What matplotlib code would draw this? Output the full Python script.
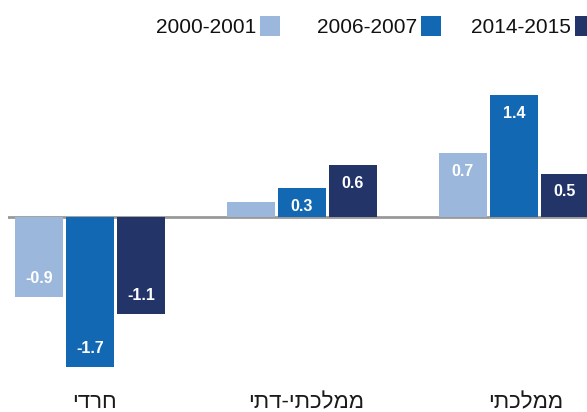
import matplotlib
matplotlib.use("Agg")
import matplotlib.pyplot as plt
from matplotlib.patches import Rectangle
import numpy as np

categories = ["חרדי", "ממלכתי-דתי", "ממלכתי"]
series_names = ["2000-2001", "2006-2007", "2014-2015"]
v2000 = [-0.92, 0.17, 0.74]
v2006 = [-1.72, 0.33, 1.4]
v2014 = [-1.11, 0.6, 0.5]
show_label = [[True, False, True], [True, True, True], [True, True, True]]
colors = ["#9BB8DC", "#1368B4", "#223468"]

plt.rcParams['font.family'] = ['Liberation Sans', 'DejaVu Sans']

W, H = 587, 412
fig = plt.figure(figsize=(W / 100, H / 100), dpi=100)
ax_left, ax_right, ax_top, ax_bot = 8, 587, 60, 375
ax = fig.add_axes([ax_left / W, 1 - ax_bot / H, (ax_right - ax_left) / W, (ax_bot - ax_top) / H])

pxu = 212.0
x = np.arange(len(categories))
offs = [-51 / pxu, 0, 51 / pxu]
bw = 48 / pxu
ypx = 87.0
lab_off = 18.5 / ypx

for si, (vals, col) in enumerate(zip([v2000, v2006, v2014], colors)):
    ax.bar(x + offs[si], vals, width=bw, color=col, label=series_names[si], zorder=2)
    for gi, v in enumerate(vals):
        if not show_label[si][gi]:
            continue
        yy = v - lab_off if v > 0 else v + lab_off
        ax.text(x[gi] + offs[si], yy, f"{v:.1f}", ha="center", va="center",
                color="white", fontsize=11.5, fontweight="bold", zorder=3)

ax.axhline(0, color="#999999", lw=2, zorder=1)
ax.set_xlim(-(90 - ax_left) / pxu, 2 + (ax_right - 514) / pxu)
ax.set_ylim(-(ax_bot - 217) / ypx, (217 - ax_top) / ypx)
for s in ax.spines.values():
    s.set_visible(False)
ax.set_yticks([])
ax.set_xticks([])

# category labels (visual order for RTL text)
label_dx = [4, 4, 12]
for gi, c in enumerate(categories):
    ax.annotate(c[::-1], xy=(x[gi], 0), xycoords=("data", "figure fraction"),
                xytext=(label_dx[gi] * 0.72, 1 - 403 / H),
                textcoords=("offset points", "figure fraction"),
                ha="center", va="center", fontsize=16, color="#1a1a1a")

# legend drawn manually: text then square to the right
leg_text_right = [256, 417, 571]
for i, name in enumerate(series_names):
    fig.text(leg_text_right[i] / W, 1 - 33 / H, name, ha="right", va="baseline",
             fontsize=15, color="#111111")
    fig.patches.append(Rectangle(((leg_text_right[i] + 4) / W, 1 - 36 / H), 20 / W, 20 / H,
                                 transform=fig.transFigure, facecolor=colors[i],
                                 edgecolor="none"))

fig.savefig("out.png", dpi=100)
